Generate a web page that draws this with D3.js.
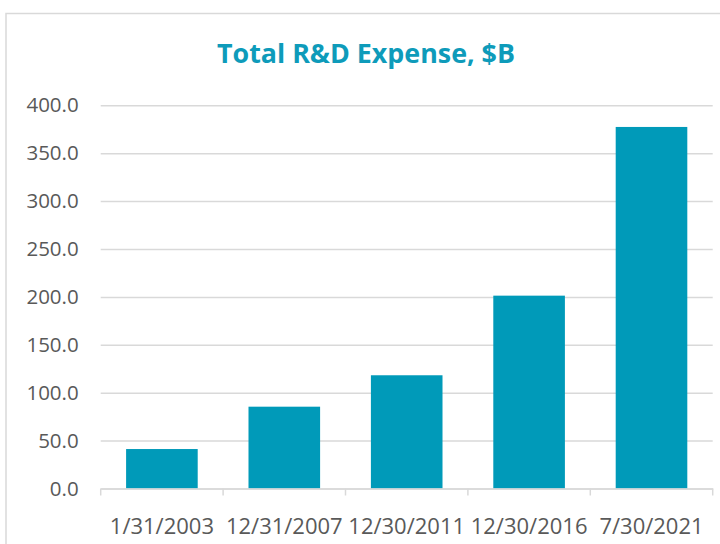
<!DOCTYPE html>
<html><head><meta charset="utf-8">
<script src="https://cdn.jsdelivr.net/npm/d3@7"></script>
<style>html,body{margin:0;padding:0;background:#fff;overflow:hidden}</style>
</head><body>
<svg id="c" width="720" height="544"></svg>
<script>
const categories = ["1/31/2003", "12/31/2007", "12/30/2011", "12/30/2016", "7/30/2021"];
const values = [41.2, 85.4, 118.2, 201.3, 377.4];
const yTicks = [0, 50, 100, 150, 200, 250, 300, 350, 400];
const title = "Total R&D Expense, $B";

const svg = d3.select("#c");
const m = {left: 100.7, right: 712.7, top: 105.3, bottom: 488.5};
const font = "'Open Sans', sans-serif";
const barColor = "#009AB9";
const textColor = "#595959";
const gridColor = "#D9D9D9";

svg.append("rect").attr("x", 6).attr("y", 13.5).attr("width", 730).attr("height", 540)
  .attr("fill", "#fff").attr("stroke", gridColor).attr("stroke-width", 1.5);

const y = d3.scaleLinear().domain([0, 400]).range([m.bottom, m.top]);
const xAxisScale = d3.scaleBand().domain(categories).range([m.left, m.right]).padding(0);
const xBar = d3.scaleBand().domain(categories).range([m.left, m.right]).paddingInner(0.415).paddingOuter(0.2075);

// gridlines
const yAxis = d3.axisLeft(y).tickValues(yTicks).tickFormat(d3.format(".1f"))
  .tickSize(-(m.right - m.left)).tickPadding(22);
const gy = svg.append("g").attr("transform", `translate(${m.left},0)`).call(yAxis);
gy.select(".domain").remove();
gy.selectAll(".tick line").attr("stroke", gridColor).attr("stroke-width", 1.5);
gy.selectAll(".tick text").attr("fill", textColor).style("font-family", font).style("font-size", "20.5px");

// bars
svg.append("g").selectAll("rect").data(values).join("rect")
  .attr("x", (d, i) => xBar(categories[i]))
  .attr("width", xBar.bandwidth())
  .attr("y", d => y(d))
  .attr("height", d => y(0) - y(d))
  .attr("fill", barColor);

// x axis
const gx = svg.append("g").attr("transform", `translate(0,${m.bottom})`)
  .call(d3.axisBottom(xAxisScale).tickSize(0).tickPadding(30));
gx.select(".domain").attr("stroke", gridColor).attr("stroke-width", 1.5);
gx.selectAll(".tick text").attr("fill", textColor).style("font-family", font).style("font-size", "22px");
const bounds = categories.map(c => xAxisScale(c)).concat([xAxisScale(categories[categories.length - 1]) + xAxisScale.bandwidth()]);
gx.selectAll("line.bound").data(bounds).join("line").attr("class", "bound")
  .attr("x1", d => d).attr("x2", d => d).attr("y1", 0).attr("y2", 7)
  .attr("stroke", gridColor).attr("stroke-width", 1.5);

// title
const t = svg.append("text").attr("x", 366).attr("y", 63).attr("text-anchor", "middle")
  .attr("fill", "#0E9BBA").style("font-family", font).style("font-weight", "bold")
  .style("font-size", "26px").text(title);
const tw = t.node().getComputedTextLength();
if (tw > 0) t.style("font-size", (26 * 298 / tw).toFixed(2) + "px");
</script>
</body></html>
